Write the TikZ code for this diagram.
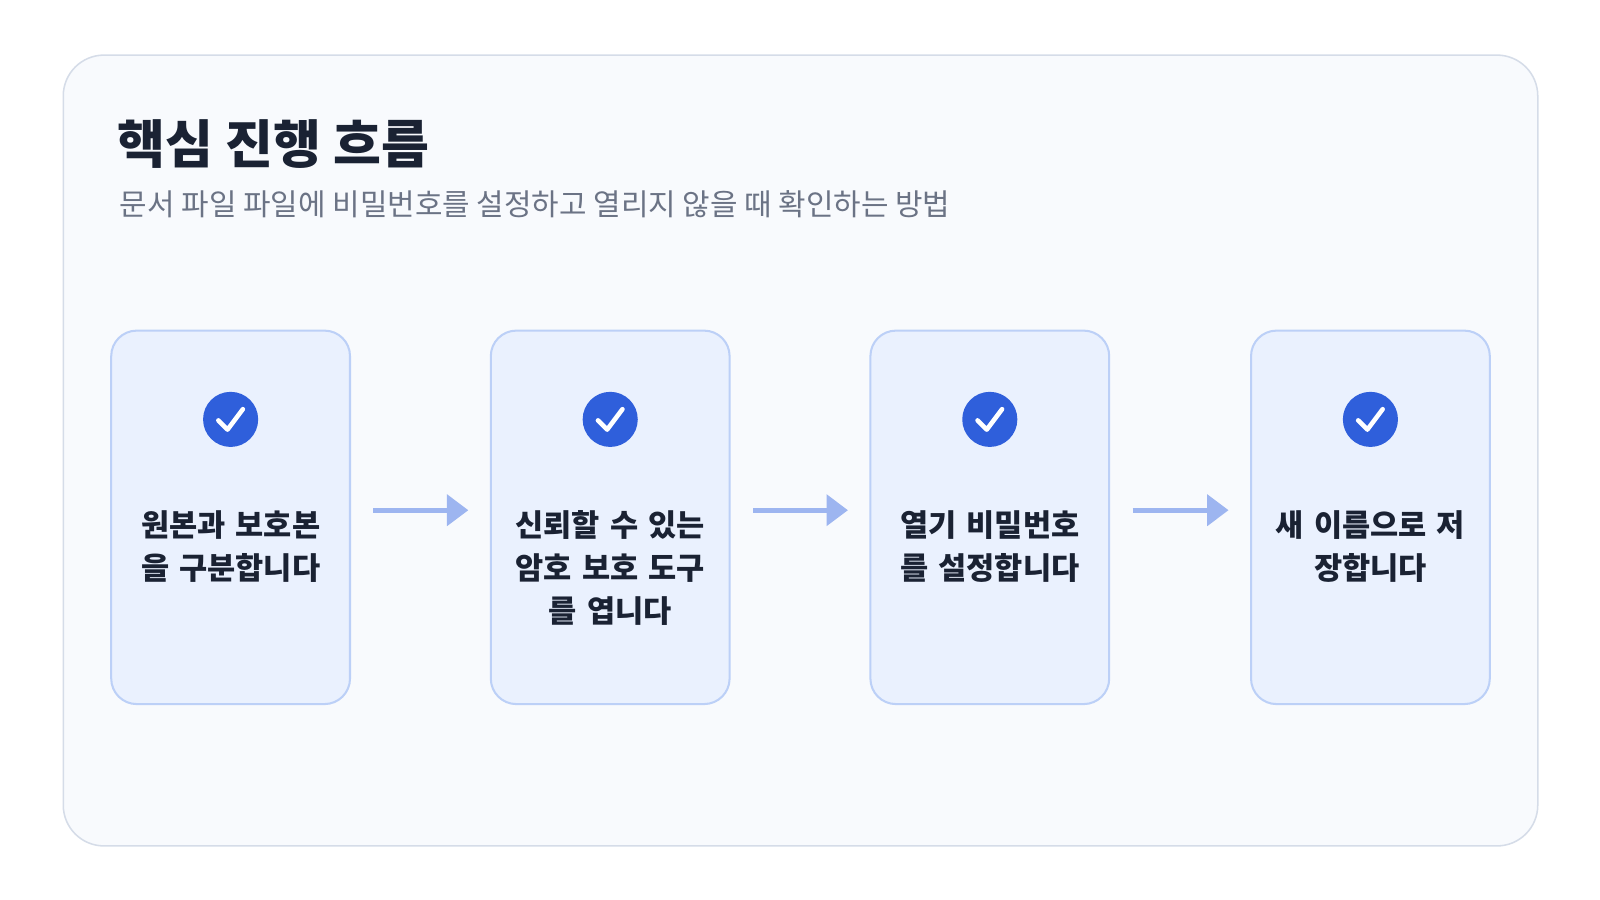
\documentclass[tikz,border=0pt]{standalone}
\usepackage{fontspec}
\setmainfont{Noto Sans CJK KR}
\usetikzlibrary{arrows.meta,positioning}
\definecolor{panelbg}{HTML}{F8FAFD}
\definecolor{panelline}{HTML}{D5DCE8}
\definecolor{cardbg}{HTML}{EAF1FE}
\definecolor{cardline}{HTML}{BCD0F7}
\definecolor{checkblue}{HTML}{2F5FDB}
\definecolor{flowblue}{HTML}{9DB5F0}
\definecolor{titleink}{HTML}{1A2233}
\definecolor{subink}{HTML}{6B7385}

\begin{document}
\begin{tikzpicture}[x=1pt,y=-1pt,
    card/.style={draw=cardline, line width=2pt, fill=cardbg, rounded corners=25pt,
                 minimum width=234pt, minimum height=366pt, inner sep=0pt},
    steptext/.style={text width=210pt, align=center, font=\fontsize{30}{42}\selectfont\bfseries,
                 text=titleink},
    flow/.style={draw=flowblue, line width=5pt, -{Triangle[length=21pt,width=30pt]},
                 shorten <=22pt, shorten >=21pt}]
    % Canvas and panel
    \useasboundingbox (0,0) rectangle (1568,882);
    \fill[white] (0,0) rectangle (1568,882);
    \draw[panelline, fill=panelbg, line width=1.5pt, rounded corners=40pt]
        (62,54) rectangle (1507,829);

    % Heading
    \node[anchor=west, text=titleink, font=\fontsize{51}{60}\selectfont\bfseries]
        (title) at (112,141) {핵심 진행 흐름};
    \node[anchor=west, text=subink, font=\fontsize{29.3}{34}\selectfont]
        (subtitle) at (114,200) {문서 파일 파일에 비밀번호를 설정하고 열리지 않을 때 확인하는 방법};

    % Step cards
    \foreach \i/\x/\txt in {1/226/{원본과 보호본\\을 구분합니다},
                            2/598/{신뢰할 수 있는\\암호 보호 도구\\를 엽니다},
                            3/970/{열기 비밀번호\\를 설정합니다},
                            4/1343/{새 이름으로 저\\장합니다}} {
        \node[card] (c\i) at (\x,507) {};
        \fill[checkblue] (\x,411) circle (27pt);
        \draw[white, line width=4.5pt, line cap=round, line join=round]
            (\x-12,412) -- (\x-3,421) -- (\x+12,401);
        \node[steptext, anchor=north] (t\i) at (\x,497) {\txt};
    }

    % Connectors
    \draw[flow] (c1.east |- 0,500) -- (c2.west |- 0,500);
    \draw[flow] (c2.east |- 0,500) -- (c3.west |- 0,500);
    \draw[flow] (c3.east |- 0,500) -- (c4.west |- 0,500);
\end{tikzpicture}
\end{document}
